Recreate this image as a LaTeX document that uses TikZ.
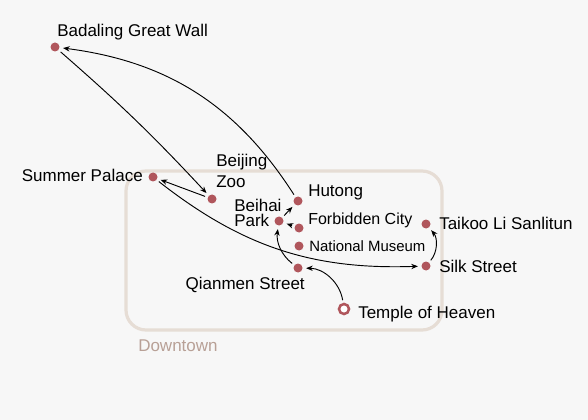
\documentclass[tikz,border=0pt]{standalone}
\usepackage{fontspec}
\usepackage{xcolor}
\usetikzlibrary{arrows.meta}
\setmainfont{Liberation Sans}
\definecolor{spotred}{RGB}{176,86,92}
\definecolor{areaedge}{RGB}{230,221,213}
\definecolor{areatext}{RGB}{184,160,150}
\definecolor{paper}{RGB}{247,247,247}

\begin{document}
\begin{tikzpicture}[x=0.75pt, y=-0.75pt, >={Stealth[length=5pt,width=4pt]}, font=\fontsize{12.75}{15.5}\selectfont,
  spot/.style={circle, fill=spotred, inner sep=0pt, minimum size=6.75pt},
  tag/.style={inner sep=0pt},
  route/.style={->, line width=0.7pt, shorten >=2.5pt, shorten <=2pt}]
  \fill[paper] (0,0) rectangle (588,420);
  \useasboundingbox (0,0) rectangle (588,420);
  \draw[areaedge, line width=2.4pt, rounded corners=15pt] (126,171) rectangle (442,330);
  \node[tag, anchor=base west, text=areatext] (downtown) at (138,351) {Downtown};
  \node[spot] (badaling) at (55,47) {};
  \node[spot] (summer) at (153,177) {};
  \node[spot] (zoo) at (212,199) {};
  \node[spot] (hutong) at (298,201) {};
  \node[spot] (beihai) at (279,221) {};
  \node[spot] (forbidden) at (299,228) {};
  \node[spot] (museum) at (299,246) {};
  \node[spot] (qianmen) at (298,268) {};
  \node[spot] (taikoo) at (426,224) {};
  \node[spot] (silk) at (426,266) {};
  \node[circle, draw=spotred, line width=1.9pt, fill=white, inner sep=0pt, minimum size=7.5pt] (temple) at (344,309) {};
  \node[tag, anchor=base west] (badalingtext) at (57,37) {Badaling Great Wall};
  \node[tag, anchor=base east] (summertext) at (143,182) {Summer Palace};
  \node[tag, anchor=south west, align=left] (zootext) at (216,188) {Beijing\\Zoo};
  \node[tag, anchor=base west] (hutongtext) at (308,197) {Hutong};
  \node[tag, anchor=south west, align=left, font=\fontsize{12.75}{11.2}\selectfont] (beihaitext) at (234,226.5) {Beihai\\Park};
  \node[tag, anchor=base west, font=\fontsize{12}{14}\selectfont] (forbiddentext) at (308,224) {Forbidden City};
  \node[tag, anchor=base west, font=\fontsize{11.2}{13}\selectfont] (museumtext) at (309,251) {National Museum};
  \node[tag, anchor=base east] (qianmentext) at (305,289) {Qianmen Street};
  \node[tag, anchor=base west] (taikootext) at (439,229) {Taikoo Li Sanlitun};
  \node[tag, anchor=base west] (silktext) at (439,272) {Silk Street};
  \node[tag, anchor=base west] (templetext) at (358,318) {Temple of Heaven};
  \draw[route] (temple) to[bend right=40] (qianmen);
  \draw[route] (qianmen) to[bend left=30] (beihai);
  \draw[route] (forbidden) -- (beihai);
  \draw[route] (beihai) -- (hutong);
  \draw[route] (hutong) to[bend right=25] (badaling);
  \draw[route] (badaling) to[bend left=3] (zoo);
  \draw[route] (zoo) -- (summer);
  \draw[route] (summer) to[bend right=20] (silk);
  \draw[route] (silk) to[bend right=40] (taikoo);
\end{tikzpicture}
\end{document}
